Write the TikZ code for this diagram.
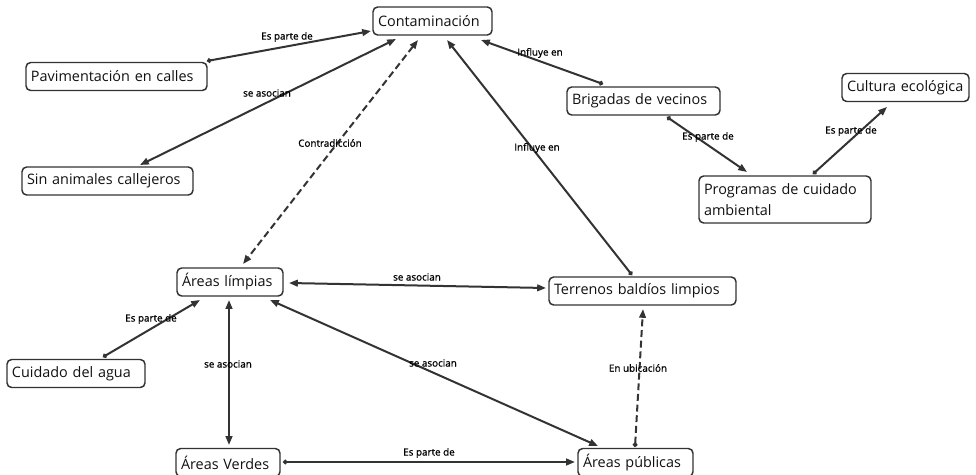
\documentclass[tikz,border=0pt]{standalone}
\usepackage{fontspec}
\setmainfont{Open Sans}
\newfontfamily\lblfont{Open Sans}[FakeBold=0.9]
\usetikzlibrary{arrows.meta,calc}
\definecolor{ln}{HTML}{333333}
\definecolor{tx}{HTML}{111111}
\begin{document}
\begin{tikzpicture}[x=0.75pt,y=-0.75pt,
  cbox/.style={draw=ln, line width=1.1pt, rounded corners=3.5pt, fill=white,
    align=left, inner xsep=3.75pt, inner ysep=0pt, minimum height=21pt,
    text width=#1, text=tx, font=\fontsize{10.8pt}{15.5pt}\selectfont},
  link/.style={draw=ln, line width=1.5pt},
  one/.style={link, {Circle[length=3.4pt]}-{Triangle[length=6.6pt,width=5pt]}},
  two/.style={link, {Triangle[length=6.6pt,width=5pt]}-{Triangle[length=6.6pt,width=5pt]}},
  dsh/.style={dash pattern=on 5.2pt off 2.8pt},
  lbl/.style={font=\lblfont\fontsize{7.4pt}{9pt}\selectfont, inner sep=0pt, text=black}]
\useasboundingbox (0,0) rectangle (976,475);
% nodes
\node[cbox=81.75pt]  (con) at (432.5,21)   {Contaminación};
\node[cbox=128.25pt] (pav) at (116.5,76.5) {Pavimentación en calles};
\node[cbox=120.75pt] (sin) at (107.5,181)  {Sin animales callejeros};
\node[cbox=107.25pt] (bri) at (643.5,101)  {Brigadas de vecinos};
\node[cbox=87.75pt]  (cul) at (905.5,87.5) {Cultura ecológica};
\node[cbox=121.5pt, minimum height=35.25pt] (pro) at (785,199.5) {Programas de cuidado\\ambiental};
\node[cbox=72pt]     (lim) at (230,282)    {Áreas límpias};
\node[cbox=96pt]     (agu) at (76,373.5)   {Cuidado del agua};
\node[cbox=70.5pt]   (ver) at (228,462.5)  {Áreas Verdes};
\node[cbox=132.75pt] (ter) at (642.5,291)  {Terrenos baldíos limpios};
\node[cbox=78.75pt]  (pub) at (635.5,462.5) {Áreas públicas};
% connectors
\draw[one] ($(pav)+(90.5,-15.5)$) -- ($(con)+(-61.5,10)$);
\draw[two] ($(con)+(-36.5,18)$) -- ($(sin)+(32.5,-16)$);
\draw[two,dsh] ($(con)+(-14.5,19)$) -- ($(lim)+(13,-18)$);
\draw[one] ($(bri)+(-40.5,-17)$) -- ($(con)+(48.5,19)$);
\draw[one] ($(ter)+(-10.5,-16)$) -- ($(con)+(14.5,19)$);
\draw[one] ($(bri)+(23.5,16)$) -- ($(pro)+(-38,-27.5)$);
\draw[one] ($(pro)+(28,-25.5)$) -- ($(cul)+(-18.5,19.5)$);
\draw[two] ($(lim)+(59,1)$) -- ($(ter)+(-96.5,-3)$);
\draw[one] ($(agu)+(27,-16.5)$) -- ($(lim)+(-30,18)$);
\draw[two] ($(lim)+(-1,18)$) -- ($(ver)+(1,-17.5)$);
\draw[two] ($(lim)+(40,18)$) -- ($(pub)+(-37.5,-16.5)$);
\draw[one] ($(ver)+(55,-0.5)$) -- ($(pub)+(-60.5,-0.5)$);
\draw[one,dsh] ($(pub)+(-0.5,-15.5)$) -- ($(ter)+(0.5,18)$);
% labels
\node[lbl] (l1)  at (287,37)  {Es parte de};
\node[lbl] (l2)  at (267,93)  {se asocian};
\node[lbl] (l3)  at (330,143) {Contradicción};
\node[lbl] (l4)  at (540,53)  {Influye en};
\node[lbl] (l5)  at (537,148) {Influye en};
\node[lbl] (l6)  at (708,137) {Es parte de};
\node[lbl] (l7)  at (851,131) {Es parte de};
\node[lbl] (l8)  at (417,277) {se asocian};
\node[lbl] (l9)  at (151,319) {Es parte de};
\node[lbl] (l10) at (228,364) {se asocian};
\node[lbl] (l11) at (433,363) {se asocian};
\node[lbl] (l12) at (429,453) {Es parte de};
\node[lbl] (l13) at (638,368) {En ubicación};
\end{tikzpicture}
\end{document}
